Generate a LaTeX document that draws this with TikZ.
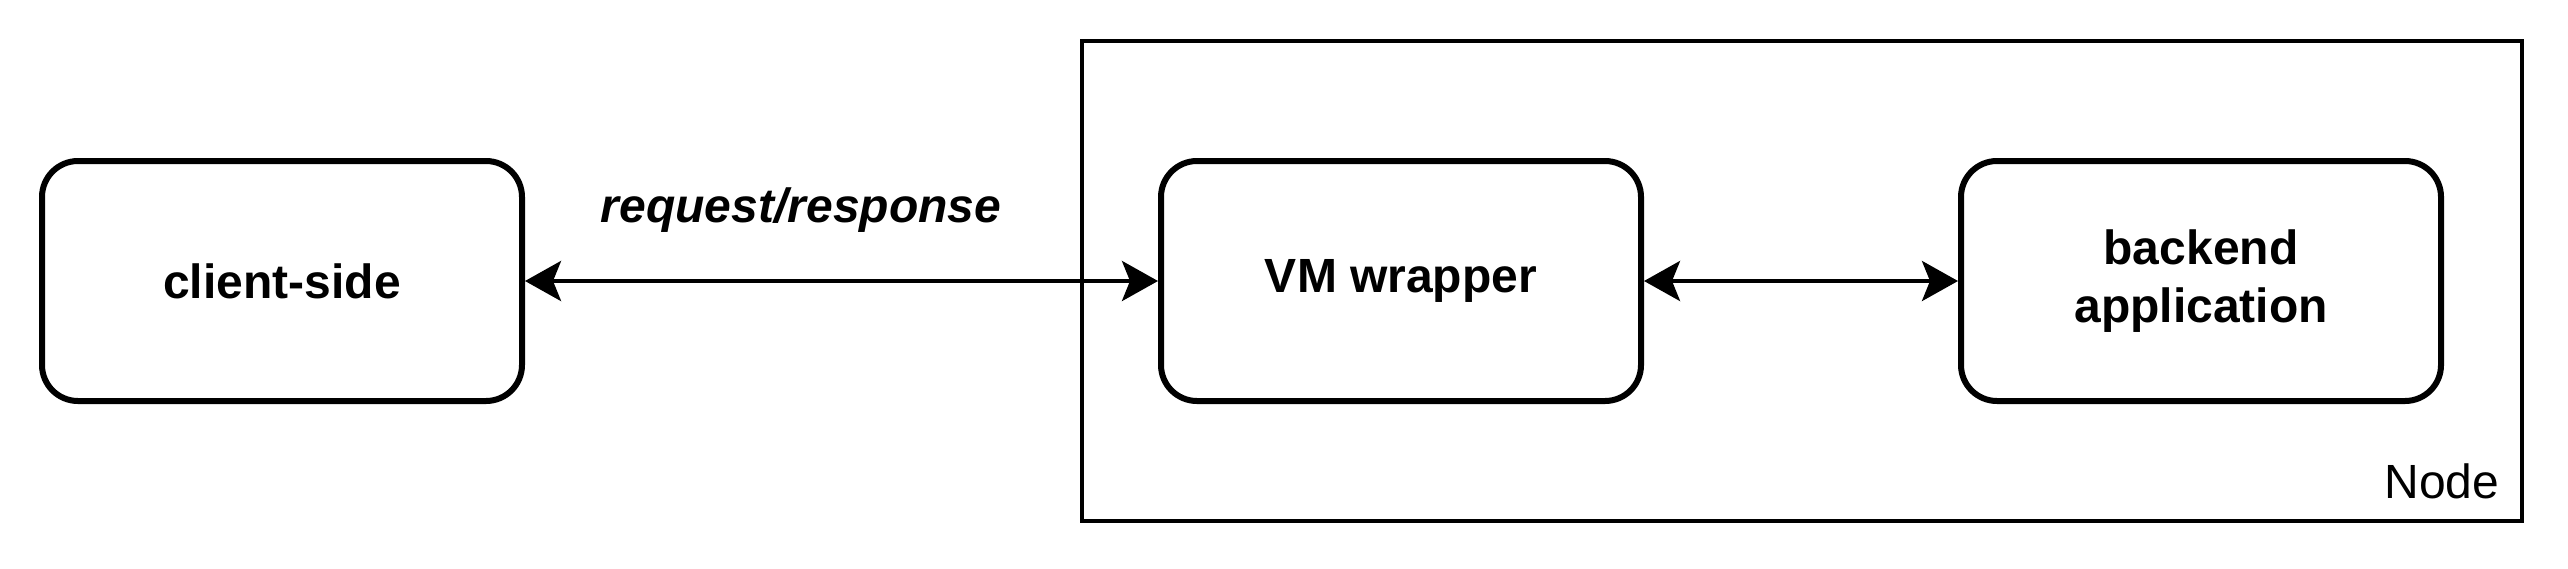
\documentclass[tikz,border=0pt]{standalone}
\usepackage{fontspec}
\setmainfont{Liberation Sans}
\usetikzlibrary{arrows.meta}
\begin{document}
\begin{tikzpicture}[x=0.25pt,y=-0.25pt,
  box/.style={draw, line width=1.5pt, rounded corners=9pt, minimum width=120pt,
    minimum height=60pt, inner sep=0pt, align=center,
    font=\bfseries\fontsize{12}{14.4}\selectfont},
  container/.style={draw, line width=1pt, minimum width=360pt, minimum height=120pt, inner sep=0pt},
  lbl/.style={inner sep=0pt, font=\fontsize{12}{14.4}\selectfont},
  tip/.tip={Stealth[length=9pt,width=10pt,inset=2pt]},
  link/.style={line width=1pt, tip-tip}]
\useasboundingbox (0,0) rectangle (2568,568);
\node[container] (nodebox) at (1802,281) {};
\node[lbl, anchor=base east] (nodelabel) at (2500,498) {Node};
\node[box] (client) at (282,281) {client-side};
\node[box] (vm) at (1401,281) {VM wrapper};
\node[box] (backend) at (2201,281) {backend\\application};
\node[lbl, font=\bfseries\itshape\fontsize{12}{14.4}\selectfont] (reqlabel) at (801,210) {request/response};
\draw[link] (client.east) -- (vm.west);
\draw[link] (vm.east) -- (backend.west);
\end{tikzpicture}
\end{document}
